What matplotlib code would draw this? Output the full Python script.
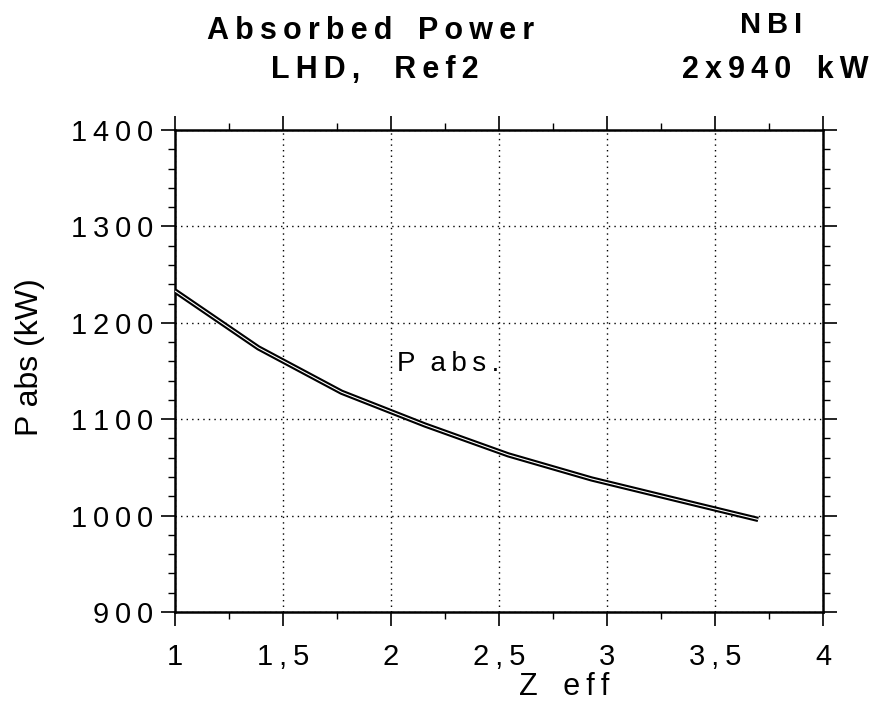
import matplotlib
matplotlib.use("Agg")
import matplotlib.pyplot as plt
from matplotlib.ticker import MultipleLocator, FuncFormatter

# Absorbed NBI power versus effective charge
z_eff = [1.0, 1.386, 1.771, 2.157, 2.543, 2.929, 3.314, 3.7]
p_abs = [1233, 1174, 1128, 1094, 1063, 1038, 1017, 996]

x_ticks = [1, 1.5, 2, 2.5, 3, 3.5, 4]
y_ticks = [900, 1000, 1100, 1200, 1300, 1400]

plt.rcParams['font.family'] = ['Liberation Sans', 'DejaVu Sans']

THIN = '\u2009'


def tracked(s):
    """Wide letter tracking, as on old plotter output."""
    return THIN.join(s)


fig = plt.figure(figsize=(8.76, 7.05), dpi=100)
ax = fig.add_axes([0.1998, 0.1319, 0.7397, 0.6837])

# double-stroke curve: black outline with a thin white core
ax.plot(z_eff, p_abs, color='black', lw=3.8, solid_capstyle='butt', zorder=3)
ax.plot(z_eff, p_abs, color='white', lw=0.8, solid_capstyle='butt', zorder=4)

ax.set_xlim(1, 4)
ax.set_ylim(900, 1400)
ax.set_xticks(x_ticks)
ax.set_yticks(y_ticks)
ax.xaxis.set_minor_locator(MultipleLocator(0.25))
ax.yaxis.set_minor_locator(MultipleLocator(20))
ax.xaxis.set_major_formatter(
    FuncFormatter(lambda v, p: tracked(('%g' % v).replace('.', ','))))
ax.yaxis.set_major_formatter(FuncFormatter(lambda v, p: tracked('%d' % v)))

ax.grid(True, which='major', linestyle=(0, (1, 3)), color='black', lw=1.0)
for s in ax.spines.values():
    s.set_linewidth(1.8)

ax.tick_params(which='major', direction='out', length=10, width=1.2,
               top=True, right=True, labelsize=21)
ax.tick_params(which='minor', direction='out', length=5, width=1.0,
               top=True, right=True)
ax.tick_params(axis='x', which='major', pad=12)
ax.tick_params(axis='y', which='major', pad=6)

fig.text(30 / 876, 1 - 357 / 705, 'P abs (kW)', fontsize=23, rotation=90,
         ha='center', va='center')
fig.text(564 / 876, 1 - 687 / 705, 'Z   ' + tracked('eff'), fontsize=22,
         ha='center', va='center')

ax.text(2.03, 1157, tracked('P') + '  ' + tracked('abs.'), fontsize=20,
        va='center', ha='left')

fig.text(371 / 876, 1 - 31 / 705, tracked('Absorbed') + '   ' + tracked('Power'),
         fontsize=22, fontweight='bold', ha='center', va='center')
fig.text(375 / 876, 1 - 70 / 705, tracked('LHD,') + '    ' + tracked('Ref2'),
         fontsize=22, fontweight='bold', ha='center', va='center')
fig.text(771 / 876, 1 - 25 / 705, tracked('NBI'),
         fontsize=21, fontweight='bold', ha='center', va='center')
fig.text(775 / 876, 1 - 70 / 705, tracked('2x940') + '   ' + tracked('kW'),
         fontsize=22, fontweight='bold', ha='center', va='center')

fig.savefig('out.png', dpi=100)
